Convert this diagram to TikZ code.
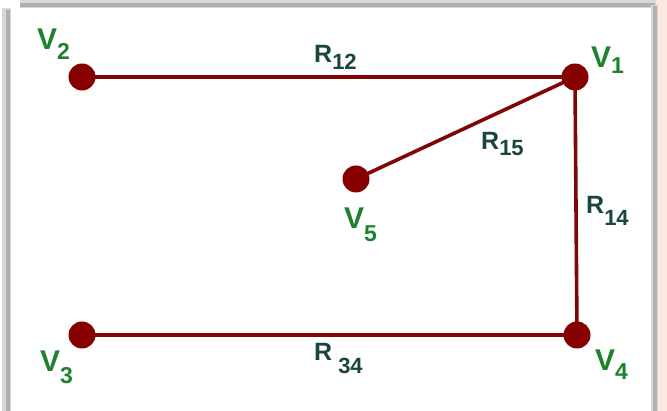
\documentclass[tikz,border=0pt]{standalone}
\usepackage{fontspec}
\setmainfont{Liberation Sans}
\definecolor{edgered}{RGB}{128,6,6}
\definecolor{dotred}{RGB}{135,0,0}
\definecolor{vgreen}{RGB}{30,130,45}
\definecolor{rteal}{RGB}{25,70,62}
\definecolor{peach}{RGB}{252,233,222}
\definecolor{frameA}{RGB}{175,175,175}
\definecolor{frameB}{RGB}{215,215,215}
\newcommand{\vlab}[2]{\fontsize{30}{30}\selectfont\bfseries V\raisebox{-#2pt}{\fontsize{23}{23}\selectfont #1}}
\newcommand{\rlab}[3]{\fontsize{25}{25}\selectfont\bfseries R#3\raisebox{-#2pt}{\fontsize{22}{22}\selectfont #1}}
\begin{document}
\begin{tikzpicture}[x=1pt,y=-1pt,
  vdot/.style={circle,fill=dotred,inner sep=0pt,minimum size=27pt},
  wire/.style={draw=edgered,line width=3.6pt},
  vtext/.style={anchor=base west,inner sep=0pt,text=vgreen},
  rtext/.style={anchor=base west,inner sep=0pt,text=rteal}]
\useasboundingbox (0,0) rectangle (667,411);
\fill[white] (0,0) rectangle (667,411);
\fill[peach] (656,0) rectangle (667,411);
% frame
\fill[frameB] (2,8) rectangle (11,411);
\fill[frameA] (6,10) rectangle (10,411);
\fill[frameB] (20,0) rectangle (656,8);
\fill[frameA] (20,3) rectangle (655,7);
\fill[frameB] (651,5) rectangle (658,411);
\fill[frameA] (653,6) rectangle (657,411);
% vertex positions
\coordinate (c1) at (575,77);
\coordinate (c2) at (82,77);
\coordinate (c3) at (82,335);
\coordinate (c4) at (577,335);
\coordinate (c5) at (356,179);
% edges
\draw[wire] (c2) -- (c1);
\draw[wire] (c1) -- (c5);
\draw[wire] (c1) -- (c4);
\draw[wire] (c3) -- (c4);
% vertices
\node[vdot] (v1) at (c1) {};
\node[vdot] (v2) at (c2) {};
\node[vdot] (v3) at (c3) {};
\node[vdot] (v4) at (c4) {};
\node[vdot] (v5) at (c5) {};
% vertex labels
\node[vtext] (l2) at (37,50) {\vlab{2}{10}};
\node[vtext] (l1) at (591,68) {\vlab{1}{6}};
\node[vtext] (l3) at (40,372) {\vlab{3}{12}};
\node[vtext] (l4) at (595,371) {\vlab{4}{9}};
\node[vtext] (l5) at (344,229) {\vlab{5}{13}};
% resistor labels
\node[rtext] (r12) at (314,63) {\rlab{12}{7}{}};
\node[rtext] (r15) at (481,150) {\rlab{15}{6}{}};
\node[rtext] (r14) at (586,214) {\rlab{14}{12}{}};
\node[rtext] (r34) at (314,361) {\rlab{34}{13}{\hspace{6pt}}};
\end{tikzpicture}
\end{document}
